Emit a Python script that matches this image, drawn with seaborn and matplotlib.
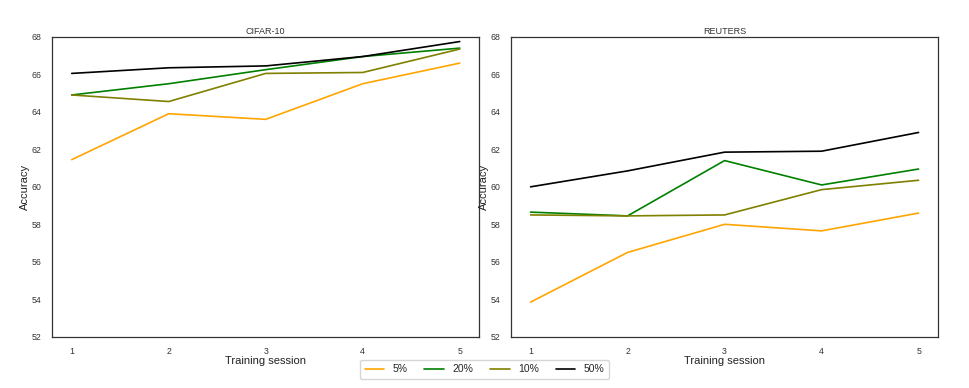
import numpy as np
import pandas as pd
import matplotlib
matplotlib.use("Agg")
import matplotlib.pyplot as plt
import seaborn as sns

sessions = [1, 2, 3, 4, 5]
labels = ["5%", "20%", "10%", "50%"]
colors = ["orange", "green", "olive", "black"]

cifar_5 = [61.45, 63.9, 63.6, 65.5, 66.6]
cifar_20 = [64.9, 65.5, 66.25, 66.95, 67.4]
cifar_10 = [64.9, 64.55, 66.05, 66.1, 67.35]
cifar_50 = [66.05, 66.35, 66.45, 66.95, 67.75]

reuters_5 = [53.85, 56.5, 58.0, 57.65, 58.6]
reuters_20 = [58.65, 58.45, 61.4, 60.1, 60.95]
reuters_10 = [58.5, 58.45, 58.5, 59.85, 60.35]
reuters_50 = [60.0, 60.85, 61.85, 61.9, 62.9]

yticks = [52, 54, 56, 58, 60, 62, 64, 66, 68]


def to_df(series):
    rows = []
    for lab, vals in zip(labels, series):
        for s, v in zip(sessions, vals):
            rows.append({"session": s, "acc": v, "pct": lab})
    return pd.DataFrame(rows)


sns.set_theme(style="white")
plt.rcParams["font.family"] = ["Liberation Sans", "DejaVu Sans"]

fig, axes = plt.subplots(1, 2, figsize=(9.69, 3.88), dpi=100)
fig.subplots_adjust(left=0.054, right=0.968, top=0.905, bottom=0.132, wspace=0.075)

panels = [("CIFAR-10", [cifar_5, cifar_20, cifar_10, cifar_50]),
          ("REUTERS", [reuters_5, reuters_20, reuters_10, reuters_50])]
pal = dict(zip(labels, colors))
for ax, (title, series) in zip(axes, panels):
    df = to_df(series)
    sns.lineplot(data=df, x="session", y="acc", hue="pct", palette=pal,
                 hue_order=labels, ax=ax, linewidth=1.2, legend=False)
    ax.set_ylim(52, 68)
    ax.set_xlim(0.8, 5.2)
    ax.set_yticks(yticks)
    ax.set_xticks(sessions)
    ax.tick_params(axis="both", labelsize=6.3, colors="#333333")
    ax.tick_params(axis="x", pad=1)
    ax.tick_params(axis="y", pad=2)
    ax.set_title(title, fontsize=6.5, pad=2, color="#333333")
    ax.set_xlabel("Training session", fontsize=8, labelpad=0, color="#222222")
    ax.set_ylabel("Accuracy", fontsize=8, labelpad=1, color="#222222")
    for sp in ax.spines.values():
        sp.set_color("#333333")
        sp.set_linewidth(0.9)

handles = [plt.Line2D([], [], color=c, lw=1.2) for c in colors]
fig.legend(handles, labels, loc="lower center", ncol=4, fontsize=7.5,
           bbox_to_anchor=(0.5, 0.01), frameon=True, columnspacing=1.6,
           handlelength=1.9, handletextpad=0.8, borderpad=0.45)

fig.savefig("out.png", dpi=100)
